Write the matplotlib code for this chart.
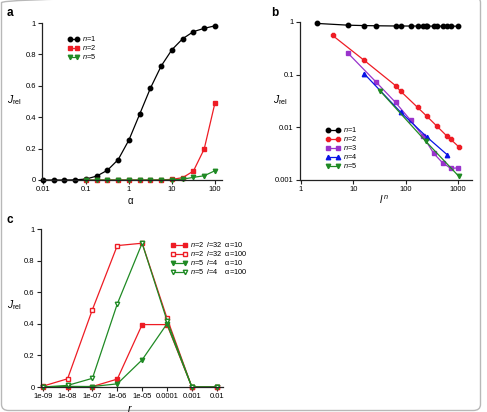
import numpy as np
import matplotlib
matplotlib.use('Agg')
import matplotlib.pyplot as plt
from matplotlib.patches import FancyBboxPatch

plt.rcParams['font.family'] = ['Liberation Sans', 'DejaVu Sans']
plt.rcParams['mathtext.fontset'] = 'custom'
plt.rcParams['mathtext.rm'] = 'Liberation Sans'
plt.rcParams['mathtext.it'] = 'Liberation Sans:italic'

# ---- panel a data ----
alpha = [0.01, 0.0178, 0.0316, 0.0562, 0.1, 0.178, 0.316, 0.562, 1, 1.78,
         3.16, 5.62, 10, 17.8, 31.6, 56.2, 100]
a_n1 = [0, 0, 0, 0.001, 0.006, 0.025, 0.062, 0.13, 0.255, 0.42,
        0.585, 0.726, 0.83, 0.9, 0.945, 0.966, 0.982]
alpha_hi = alpha[4:]
a_n2 = [0, 0, 0, 0, 0, 0, 0, 0.001, 0.004, 0.015, 0.057, 0.197, 0.49]
a_n5 = [0, 0, 0, 0, 0, 0, 0, 0, 0.001, 0.005, 0.017, 0.027, 0.059]

# ---- panel b data ----
b_x1 = [2, 8, 16, 27, 64, 81, 125, 169, 216, 243, 256, 343, 400, 512, 625, 729, 1000]
b_y1 = [0.94, 0.87, 0.855, 0.848, 0.84, 0.84, 0.838, 0.837, 0.836, 0.836,
        0.835, 0.835, 0.834, 0.834, 0.833, 0.833, 0.832]
b_x2 = [4, 16, 64, 81, 169, 256, 400, 625, 729, 1024]
b_y2 = [0.557, 0.188, 0.062, 0.048, 0.0239, 0.0161, 0.0104, 0.0067, 0.0059, 0.0043]
b_x3 = [8, 27, 64, 125, 216, 343, 512, 729, 1000]
b_y3 = [0.253, 0.073, 0.0297, 0.0135, 0.0067, 0.0032, 0.0021, 0.00166, 0.0017]
b_x4 = [16, 81, 256, 625]
b_y4 = [0.105, 0.0192, 0.0065, 0.003]
b_x5 = [32, 243, 1024]
b_y5 = [0.050, 0.0054, 0.00119]

# ---- panel c data ----
r_vals = [1e-9, 1e-8, 1e-7, 1e-6, 1e-5, 1e-4, 1e-3, 1e-2]
r_labels = ['1e-09', '1e-08', '1e-07', '1e-06', '1e-05', '0.0001', '0.001', '0.01']
c_n2_a10 = [0, 0, 0.003, 0.05, 0.395, 0.395, 0, 0]
c_n2_a100 = [0.005, 0.052, 0.49, 0.895, 0.91, 0.436, 0, 0]
c_n5_a10 = [0, 0.004, 0.003, 0.02, 0.172, 0.40, 0, 0]
c_n5_a100 = [0, 0.01, 0.055, 0.526, 0.91, 0.42, 0, 0]

W, H = 487, 412
fig = plt.figure(figsize=(W / 100, H / 100), dpi=100)

RED = '#ee1c24'
GREEN = '#1f8a24'
PURPLE = '#9933cc'
BLUE = '#0a14e6'
SPINE = '#222222'
TFS = 5.5


def px_axes(l, t, r, b):
    ax = fig.add_axes([l / W, 1 - b / H, (r - l) / W, (b - t) / H])
    for s in ['top', 'right']:
        ax.spines[s].set_visible(False)
    for s in ['left', 'bottom']:
        ax.spines[s].set_color(SPINE)
        ax.spines[s].set_linewidth(0.9)
    ax.tick_params(which='major', length=3, width=0.8, color=SPINE,
                   labelsize=TFS, pad=1.5)
    ax.tick_params(which='minor', length=0)
    ax.patch.set_alpha(0)
    return ax


def legend_at(ax, x, y, hl):
    return ax.legend(loc='upper left', bbox_to_anchor=(x / W, 1 - y / H),
                     bbox_transform=fig.transFigure, frameon=False,
                     fontsize=5.3, borderpad=0, borderaxespad=0, numpoints=2,
                     handlelength=hl, handleheight=0.5, handletextpad=0.4,
                     labelspacing=0.0)


mk = dict(markersize=3.2, linewidth=0.9, clip_on=False)

# ---------------- panel a ----------------
ax = px_axes(42, 23, 222, 180)
ax.set_xscale('log')
ax.plot(alpha, a_n1, '-o', color='black', label='$n$=1', **mk)
ax.plot(alpha_hi, a_n2, '-s', color=RED, label='$n$=2', **mk)
ax.plot(alpha_hi, a_n5, '-v', color=GREEN, label='$n$=5', **mk)
ax.set_xlim(0.0095, 146)
ax.set_ylim(0, 1)
ax.set_xticks([0.01, 0.1, 1, 10, 100])
ax.set_xticklabels(['0.01', '0.1', '1', '10', '100'])
ax.set_yticks([0, 0.2, 0.4, 0.6, 0.8, 1])
ax.set_yticklabels(['0', '0.2', '0.4', '0.6', '0.8', '1'])
legend_at(ax, 68, 34, 1.5)

# ---------------- panel b ----------------
ax = px_axes(300, 22, 472, 180)
ax.set_xscale('log')
ax.set_yscale('log')
ax.plot(b_x1, b_y1, '-o', color='black', label='$n$=1', **mk)
ax.plot(b_x2, b_y2, '-8', color=RED, label='$n$=2', **mk)
ax.plot(b_x3, b_y3, '-s', color=PURPLE, label='$n$=3', **mk)
ax.plot(b_x4, b_y4, '-^', color=BLUE, label='$n$=4', **mk)
ax.plot(b_x5, b_y5, '-v', color=GREEN, label='$n$=5', **mk)
ax.set_xlim(0.957, 1850)
ax.set_ylim(0.001, 1.0)
ax.set_xticks([1, 10, 100, 1000])
ax.set_xticklabels(['1', '10', '100', '1000'])
ax.set_yticks([0.001, 0.01, 0.1, 1])
ax.set_yticklabels(['0.001', '0.01', '0.1', '1'])
legend_at(ax, 326, 125, 1.9)

# ---------------- panel c ----------------
ax = px_axes(41, 229, 223, 387)
ax.set_xscale('log')
ax.plot(r_vals, c_n2_a10, '-s', color=RED, label='$n$=2  $l$=32  α=10', **mk)
ax.plot(r_vals, c_n2_a100, '-s', color=RED, markerfacecolor='white',
        label='$n$=2  $l$=32  α=100', **mk)
ax.plot(r_vals, c_n5_a10, '-v', color=GREEN, label='$n$=5  $l$=4    α=10', **mk)
ax.plot(r_vals, c_n5_a100, '-v', color=GREEN, markerfacecolor='white',
        label='$n$=5  $l$=4    α=100', **mk)
ax.set_xlim(0.854e-9, 0.0179)
ax.set_ylim(0, 1)
ax.set_xticks(r_vals)
ax.set_xticklabels(r_labels)
ax.set_yticks([0, 0.2, 0.4, 0.6, 0.8, 1])
ax.set_yticklabels(['0', '0.2', '0.4', '0.6', '0.8', '1'])
legend_at(ax, 171, 240, 2.2)

# ---------------- labels ----------------
jrel = r'$J_{\mathrm{rel}}$'
fig.text(14 / W, 1 - 100 / H, jrel, fontsize=7.5, ha='center', va='center')
fig.text(280 / W, 1 - 100 / H, jrel, fontsize=7.5, ha='center', va='center')
fig.text(14 / W, 1 - 305 / H, jrel, fontsize=7.5, ha='center', va='center')
fig.text(130 / W, 1 - 201 / H, 'α', fontsize=7, ha='center', va='center')
fig.text(384 / W, 1 - 200 / H, r'$l^{\,n}$', fontsize=7.5, ha='center', va='center')
fig.text(130 / W, 1 - 408 / H, '$r$', fontsize=7.5, ha='center', va='center')
for lab, x, y in [('a', 10, 13), ('b', 275, 13), ('c', 10, 220)]:
    fig.text(x / W, 1 - y / H, lab, fontsize=8.5, fontweight='bold',
             ha='center', va='center')

# figure frame
frame = FancyBboxPatch((1.5 / W, 1.5 / H), 479 / W, 414 / H,
                       boxstyle='round,pad=0,rounding_size=0.015',
                       transform=fig.transFigure, fill=False,
                       edgecolor='#b8b8b8', linewidth=1.0)
fig.patches.append(frame)

fig.savefig('out.png', dpi=100)
